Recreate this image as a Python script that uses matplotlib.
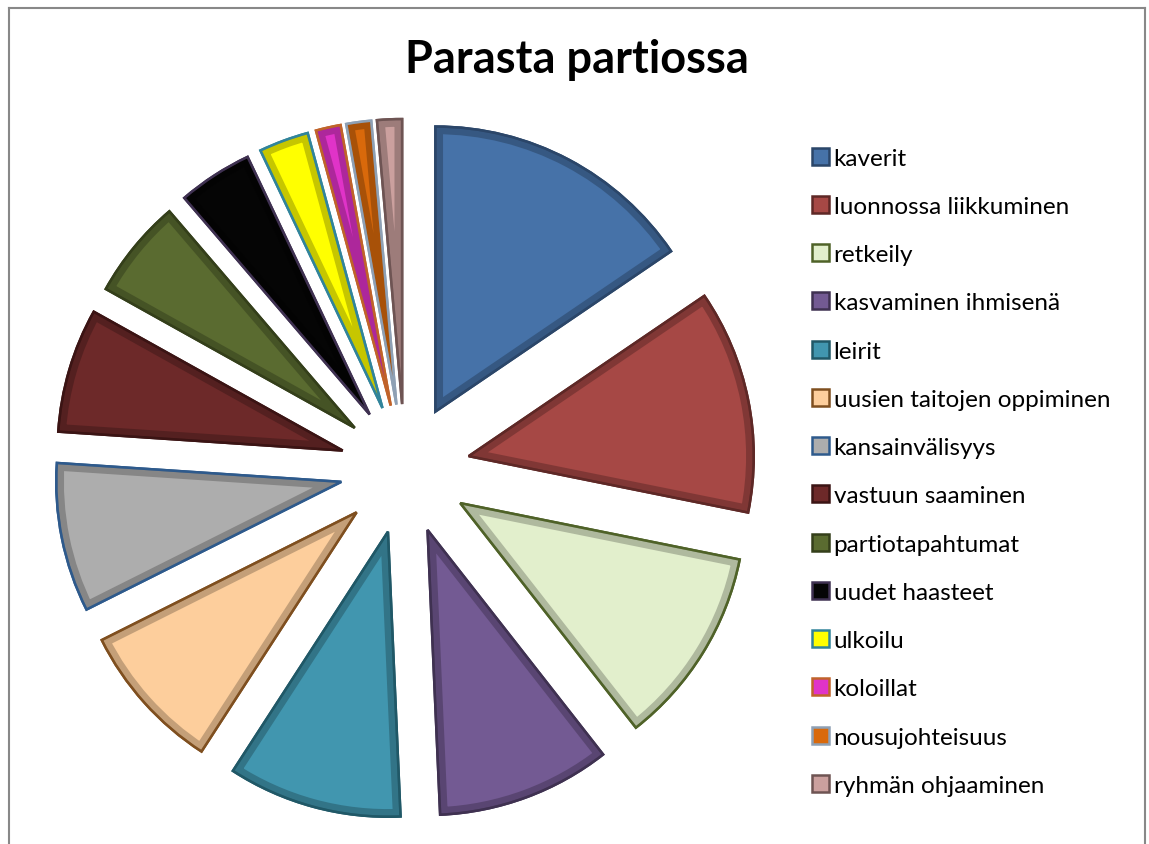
import matplotlib
matplotlib.use("Agg")
import matplotlib.pyplot as plt
from matplotlib.lines import Line2D
from matplotlib.patches import Wedge
import matplotlib.colors as mcolors
import numpy as np

plt.rcParams['font.family'] = ['Lato', 'DejaVu Sans']

# vastaukset (kpl)
labels = ['kaverit', 'luonnossa liikkuminen', 'retkeily', 'kasvaminen ihmisenä',
          'leirit', 'uusien taitojen oppiminen', 'kansainvälisyys',
          'vastuun saaminen', 'partiotapahtumat', 'uudet haasteet', 'ulkoilu',
          'koloillat', 'nousujohteisuus', 'ryhmän ohjaaminen']
values = [11, 9, 8, 7, 7, 6, 6, 5, 4, 3, 2, 1, 1, 1]

face = ['#4672A8', '#A64845', '#E2EFCC', '#735A93', '#4196AF', '#FDCE9C',
        '#ADADAD', '#6D2929', '#5A6B30', '#050505', '#FFFF00', '#E033C8',
        '#D9690B', '#CBA09E']
edge = ['#2B4669', '#5E2826', '#4F6228', '#3F3151', '#205867', '#7F4F1F',
        '#2E5A8C', '#3B1414', '#343F1A', '#3F3151', '#31849B', '#C0632A',
        '#8EA0B4', '#6E5453']

W, H = 1149, 845
fig = plt.figure(figsize=(W / 100, H / 100), dpi=100)
ax = fig.add_axes([0, 0, 1, 1])

wedges, _ = ax.pie(values, colors=face, startangle=90, counterclock=False,
                   center=(405, H - 470), radius=285,
                   explode=[65] * len(values),
                   wedgeprops=dict(linewidth=1.8, edgecolor='none'))
for w, e, f in zip(wedges, edge, face):
    w.set_edgecolor(e)
    w.set_joinstyle('miter')
    # viistetty reuna: tummempi sisäreuna
    rgb = np.array(mcolors.to_rgb(f))
    shade = tuple(rgb * 0.7)
    band = Wedge(w.center, w.r, w.theta1, w.theta2, facecolor='none',
                 edgecolor=shade, linewidth=11, alpha=0.75, zorder=w.get_zorder() + 0.1)
    ax.add_patch(band)
    band.set_clip_path(w)
    line = Wedge(w.center, w.r, w.theta1, w.theta2, facecolor='none',
                 edgecolor=e, linewidth=1.8, joinstyle='miter',
                 zorder=w.get_zorder() + 0.2)
    ax.add_patch(line)

ax.set_xlim(0, W)
ax.set_ylim(0, H)
ax.set_aspect('equal')
ax.axis('off')

fig.text(577 / W, 1 - 60 / H, 'Parasta partiossa', ha='center', va='center',
         fontsize=32.5, fontweight='bold')

leg = fig.legend(wedges, labels, loc='upper left',
                 bbox_to_anchor=(802 / W, 1 - 139 / H), frameon=False,
                 fontsize=17.5, handlelength=0.7, handleheight=0.7,
                 handletextpad=0.2, labelspacing=1.12, borderaxespad=0)

# kehys
fig.add_artist(Line2D([8.5 / W, 8.5 / W], [0, 1 - 8.5 / H], color='#888888', lw=1.5))
fig.add_artist(Line2D([8.5 / W, 1145 / W], [1 - 8.5 / H, 1 - 8.5 / H], color='#888888', lw=1.5))
fig.add_artist(Line2D([1145 / W, 1145 / W], [0, 1 - 8.5 / H], color='#888888', lw=1.5))

fig.savefig('out.png', dpi=100)
